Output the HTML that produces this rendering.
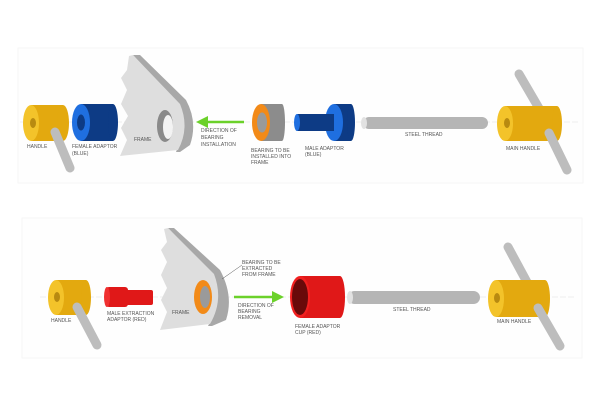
<!DOCTYPE html>
<html><head><meta charset="utf-8"><style>
html,body{margin:0;padding:0;background:#fff;width:600px;height:407px;overflow:hidden}
svg text{font-family:"Liberation Sans",sans-serif;font-size:5px;fill:#555}
</style></head><body>
<svg width="600" height="407" viewBox="0 0 600 407" xmlns="http://www.w3.org/2000/svg">
<rect x="18" y="48" width="565" height="135" fill="#fefefe" stroke="#f6f6f6"/>
<rect x="22" y="218" width="560" height="140" fill="#fefefe" stroke="#f6f6f6"/>
<line x1="20" y1="122" x2="580" y2="122" stroke="#ddd" stroke-width="0.6" stroke-dasharray="6,2"/>
<line x1="40" y1="297" x2="575" y2="297" stroke="#ddd" stroke-width="0.6" stroke-dasharray="6,2"/>

<rect x="31" y="105" width="32" height="36" fill="#e3a90f"/>
<ellipse cx="63" cy="123" rx="6" ry="18" fill="#e3a90f"/>
<ellipse cx="31" cy="123" rx="8" ry="18" fill="#f3c32a"/>
<ellipse cx="33" cy="123" rx="3" ry="5" fill="#b88a10"/>
<line x1="55" y1="132" x2="70" y2="168" stroke="#bdbdbd" stroke-width="9" stroke-linecap="round"/>
<text x="27" y="148">HANDLE</text>
<rect x="81" y="104" width="32" height="37" fill="#0d3b85"/>
<ellipse cx="113" cy="122.5" rx="5" ry="18.5" fill="#0d3b85"/>
<ellipse cx="81" cy="122.5" rx="9" ry="18.5" fill="#1f6fe0"/>
<ellipse cx="81" cy="122.5" rx="4" ry="8" fill="#0d3b85"/>
<text x="72" y="148">FEMALE ADAPTOR</text><text x="72" y="155">(BLUE)</text>
<path d="M133,55 L140,55 L186,100 Q198,122 190,145 L180,152 L176,152 Q187,128 180,106 Z" fill="#a8a8a8"/>
<path d="M129,56 L133,55 L180,104 Q190,128 178,150 L120,156 L127,140 L121,128 L128,116 L121,104 L127,90 L121,78 L127,70 Z" fill="#dedede"/>
<ellipse cx="165" cy="126" rx="8" ry="16" fill="#8a8a8a"/>
<ellipse cx="168" cy="127" rx="5" ry="12" fill="#f3f3f3"/>
<text x="134" y="141">FRAME</text>
<line x1="244" y1="122" x2="206" y2="122" stroke="#6bd12a" stroke-width="2.5"/>
<polygon points="196,122 208,116 208,128" fill="#6bd12a"/>
<text x="201" y="132">DIRECTION OF</text><text x="201" y="139">BEARING</text><text x="201" y="146">INSTALLATION</text>
<rect x="261" y="104" width="21" height="37" fill="#8c8c8c"/>
<ellipse cx="282" cy="122.5" rx="3" ry="18.5" fill="#8c8c8c"/>
<ellipse cx="261" cy="122.5" rx="9" ry="18.5" fill="#f28a18"/>
<ellipse cx="262" cy="122.5" rx="5" ry="10" fill="#9a9a9a"/>
<text x="251" y="152">BEARING TO BE</text><text x="251" y="158">INSTALLED INTO</text><text x="251" y="164">FRAME</text>
<rect x="297" y="114" width="30" height="17" fill="#0d3b85"/>
<ellipse cx="297" cy="122.5" rx="3" ry="8.5" fill="#1f6fe0"/>
<rect x="334" y="104" width="17" height="37" fill="#0d3b85"/>
<ellipse cx="351" cy="122.5" rx="4" ry="18.5" fill="#0d3b85"/>
<ellipse cx="334" cy="122.5" rx="9" ry="18.5" fill="#1f6fe0"/>
<rect x="300" y="114" width="34" height="17" fill="#0d3b85"/>
<text x="305" y="150">MALE ADAPTOR</text><text x="305" y="156">(BLUE)</text>
<rect x="363" y="117" width="125" height="12" rx="6" fill="#b5b5b5"/>
<ellipse cx="364" cy="123" rx="3" ry="6" fill="#e2e2e2"/>
<text x="405" y="136">STEEL THREAD</text>
<line x1="519" y1="74" x2="540" y2="110" stroke="#bdbdbd" stroke-width="9" stroke-linecap="round"/>
<rect x="505" y="106" width="52" height="35" fill="#e3a90f"/>
<ellipse cx="557" cy="123.5" rx="5" ry="17.5" fill="#e3a90f"/>
<ellipse cx="505" cy="123.5" rx="8" ry="17.5" fill="#f3c32a"/>
<ellipse cx="507" cy="123" rx="3" ry="5" fill="#b88a10"/>
<line x1="549" y1="133" x2="567" y2="170" stroke="#bdbdbd" stroke-width="9" stroke-linecap="round"/>
<text x="506" y="150">MAIN HANDLE</text>

<rect x="56" y="280" width="30" height="35" fill="#e3a90f"/>
<ellipse cx="86" cy="297.5" rx="5" ry="17.5" fill="#e3a90f"/>
<ellipse cx="56" cy="297.5" rx="8" ry="17.5" fill="#f3c32a"/>
<ellipse cx="57" cy="297" rx="3" ry="5" fill="#b88a10"/>
<line x1="77" y1="307" x2="97" y2="345" stroke="#bdbdbd" stroke-width="9" stroke-linecap="round"/>
<text x="51" y="322">HANDLE</text>
<rect x="106" y="287" width="22" height="20" rx="3" fill="#e01818"/>
<rect x="126" y="290" width="27" height="15" rx="2" fill="#e01818"/>
<ellipse cx="107" cy="297" rx="3" ry="10" fill="#f03030"/>
<text x="107" y="315">MALE EXTRACTION</text><text x="107" y="321">ADAPTOR (RED)</text>
<path d="M168,228 L174,228 L220,270 Q234,296 226,320 L212,326 L208,326 Q222,300 214,276 Z" fill="#a8a8a8"/>
<path d="M164,229 L168,228 L214,274 Q224,300 210,324 L160,330 L167,312 L161,300 L167,288 L161,275 L167,262 L161,250 L167,242 Z" fill="#dedede"/>
<ellipse cx="203" cy="297" rx="9" ry="17" fill="#f28a18"/>
<ellipse cx="205" cy="297" rx="5" ry="11" fill="#9a9a9a"/>
<text x="172" y="314">FRAME</text>
<line x1="222" y1="279" x2="242" y2="265" stroke="#555" stroke-width="0.5"/>
<text x="242" y="264">BEARING TO BE</text><text x="242" y="270">EXTRACTED</text><text x="242" y="276">FROM FRAME</text>
<line x1="234" y1="297" x2="272" y2="297" stroke="#6bd12a" stroke-width="2.5"/>
<polygon points="284,297 272,291 272,303" fill="#6bd12a"/>
<text x="238" y="307">DIRECTION OF</text><text x="238" y="313">BEARING</text><text x="238" y="319">REMOVAL</text>
<rect x="300" y="276" width="40" height="42" fill="#e01818"/>
<ellipse cx="340" cy="297" rx="5" ry="21" fill="#e01818"/>
<ellipse cx="300" cy="297" rx="10" ry="21" fill="#f22020"/>
<ellipse cx="300" cy="297" rx="8" ry="18" fill="#6a0a0a"/>
<text x="295" y="328">FEMALE ADAPTOR</text><text x="295" y="334">CUP (RED)</text>
<rect x="348" y="291" width="132" height="13" rx="6.5" fill="#b5b5b5"/>
<ellipse cx="350" cy="297.5" rx="3" ry="6.5" fill="#e2e2e2"/>
<text x="393" y="311">STEEL THREAD</text>
<line x1="508" y1="247" x2="528" y2="284" stroke="#bdbdbd" stroke-width="9" stroke-linecap="round"/>
<rect x="496" y="280" width="49" height="37" fill="#e3a90f"/>
<ellipse cx="545" cy="298.5" rx="5" ry="18.5" fill="#e3a90f"/>
<ellipse cx="496" cy="298.5" rx="8" ry="18.5" fill="#f3c32a"/>
<ellipse cx="497" cy="298" rx="3" ry="5" fill="#b88a10"/>
<line x1="538" y1="308" x2="560" y2="346" stroke="#bdbdbd" stroke-width="9" stroke-linecap="round"/>
<text x="497" y="323">MAIN HANDLE</text>
</svg>
</body></html>
